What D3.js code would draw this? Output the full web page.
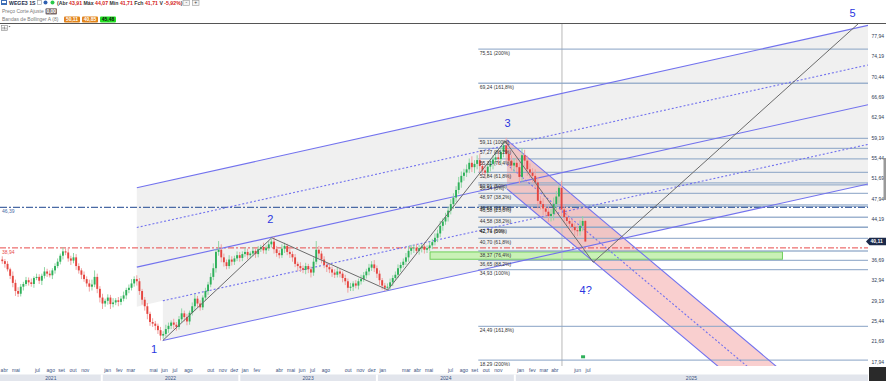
<!DOCTYPE html>
<html><head><meta charset="utf-8">
<script src="https://cdn.jsdelivr.net/npm/d3@7"></script>
<style>
html,body{margin:0;padding:0;background:#fff;overflow:hidden;}
svg{display:block;font-family:"Liberation Sans",Arial,sans-serif;}
</style></head><body>
<svg id="c" width="886" height="381"></svg>
<script>
// ---------------- DATA ----------------
const firstWeek = "2021-04-12";
const firstOpen = 36.8;
const closes = [
36.5,36.0,35.0,33.8,32.5,31.0,30.5,31.8,32.3,33.0,
32.6,32.3,33.4,33.6,32.9,33.8,34.6,34.2,33.9,34.8,
35.6,36.4,37.5,38.3,38.1,37.0,36.6,37.2,35.6,34.8,
34.0,33.2,32.4,31.8,32.2,33.6,31.4,29.8,28.7,29.2,
29.8,28.6,28.9,29.3,29.0,29.6,30.2,31.2,31.6,32.4,
33.2,32.8,31.0,29.4,28.2,26.8,25.3,25.0,24.6,23.8,
22.8,23.1,24.0,24.6,25.2,24.8,24.4,25.8,26.9,26.2,
25.4,27.0,28.2,29.6,28.7,28.0,29.8,31.0,32.2,33.6,
35.2,38.2,38.6,37.2,36.3,35.6,36.8,36.4,37.0,37.6,
37.1,37.8,38.2,37.6,37.9,38.4,37.8,38.7,39.1,38.5,
38.9,39.6,40.1,38.7,38.0,37.6,38.8,39.3,38.2,37.8,
37.2,36.0,35.6,35.2,34.9,35.6,35.0,34.4,36.4,38.6,
37.9,36.8,35.8,35.4,35.0,34.4,34.0,34.6,34.2,33.4,
32.8,31.6,31.8,32.4,32.0,32.8,33.2,33.9,34.6,35.3,
35.9,35.2,34.2,33.0,32.0,31.6,31.8,32.6,33.4,34.0,
35.2,35.8,36.4,37.2,38.4,38.9,39.0,38.4,38.9,39.2,
38.6,38.9,39.4,40.0,40.8,41.6,43.0,43.8,44.6,45.8,
47.0,48.2,49.6,51.0,52.2,52.8,53.4,54.6,53.8,54.4,
55.1,54.0,53.2,52.8,53.9,54.4,55.2,55.6,55.3,56.6,
57.8,56.2,55.0,54.1,54.6,53.8,52.0,56.0,55.0,53.4,
52.8,52.2,51.0,47.6,47.0,46.2,45.6,44.8,45.2,47.0,
48.4,50.0,46.0,44.6,43.9,43.4,42.8,42.2,42.0,43.0,
43.9,40.11];
const upWick = [
0.6,0.4,0.5,0.3,0.8,0.6,0.7,0.5,0.4,0.6, 0.5,0.7,0.3,0.6,0.5,0.4,0.8,0.5,0.6,0.4,
0.5,0.6,0.4,0.7,0.6,0.9,0.5,0.8,0.6,0.5, 0.4,0.6,0.5,0.7,0.9,1.2,0.6,0.5,0.7,0.4,
0.6,0.5,0.8,0.4,0.6,0.5,0.7,0.4,0.6,0.8, 0.5,0.7,0.6,0.4,0.5,0.6,0.4,0.7,0.5,0.4,
0.6,0.5,0.8,0.6,0.4,0.7,0.5,0.6,0.9,0.5, 0.6,0.4,0.7,0.8,0.5,0.6,0.4,0.6,0.5,0.7,
0.9,0.6,1.6,1.0,0.7,0.5,0.8,0.6,0.5,0.7, 0.6,0.5,0.8,0.6,0.4,0.7,0.5,0.6,0.4,0.8,
0.5,0.6,0.5,0.9,0.6,0.5,0.8,0.6,0.4,0.7, 0.5,0.6,0.4,0.7,0.5,0.6,0.4,0.5,0.8,1.6,
0.7,0.5,0.6,0.4,0.7,0.5,0.6,0.8,0.5,0.4, 0.6,0.5,0.7,0.4,0.6,0.5,0.8,0.6,0.5,0.7,
0.6,0.8,0.5,0.6,0.4,0.5,0.6,0.7,0.5,0.6, 0.7,0.5,0.6,0.8,0.9,0.6,0.5,0.7,0.6,0.5,
0.6,0.5,0.7,0.6,0.8,0.7,0.9,0.6,0.8,0.7, 0.9,0.8,0.7,1.0,0.8,0.7,0.9,0.8,1.2,0.7,
0.9,1.1,0.8,1.0,0.7,0.9,0.8,1.0,1.2,0.9, 0.7,1.4,0.9,1.0,0.8,1.1,0.9,1.3,1.0,0.9,
1.1,0.8,1.2,1.0,0.9,1.1,0.8,1.0,0.9,1.2, 1.0,0.5,1.3,0.9,1.0,0.8,0.9,0.7,0.8,1.0,
0.9,0.16];
const downWick = [
0.5,0.7,0.4,0.6,0.8,0.9,0.6,0.5,0.7,0.4, 0.6,0.5,0.7,0.4,0.6,0.8,0.5,0.6,0.4,0.7,
0.6,0.4,0.5,0.7,0.5,0.6,0.8,0.5,0.7,0.6, 0.8,0.5,0.6,0.9,0.7,0.5,0.8,0.9,1.0,0.6,
0.7,0.9,0.6,0.5,0.8,0.6,0.5,0.7,0.6,0.5, 0.6,0.8,0.7,0.9,0.8,1.0,0.7,0.6,0.8,0.7,
0.9,0.6,0.5,0.7,0.6,0.8,0.7,0.5,0.6,0.8, 0.7,0.6,0.5,0.8,0.7,0.6,0.5,0.6,0.7,0.5,
0.6,0.8,0.7,0.9,0.8,0.6,0.5,0.7,0.6,0.5, 0.7,0.6,0.5,0.8,0.6,0.5,0.7,0.6,0.5,0.6,
0.7,0.5,0.6,0.8,0.7,0.6,0.5,0.8,0.6,0.7, 0.8,0.6,0.9,0.7,0.6,0.8,0.7,0.9,0.6,0.5,
0.8,0.7,0.6,0.9,0.7,0.8,0.6,0.5,0.7,0.8, 0.7,0.9,0.6,0.8,0.5,0.7,0.6,0.5,0.6,0.7,
0.6,0.7,0.8,0.9,0.7,0.6,0.5,0.6,0.7,0.5, 0.6,0.7,0.5,0.6,0.8,0.7,0.9,0.6,0.7,0.8,
0.7,0.6,0.5,0.7,0.6,0.8,0.7,0.9,0.6,0.8, 0.7,0.9,0.8,0.7,1.0,0.9,0.8,0.7,0.9,1.1,
1.0,1.2,0.9,1.1,0.8,0.9,1.0,0.8,1.1,0.9, 1.0,1.3,1.1,0.9,1.2,1.0,1.4,0.9,1.1,1.2,
1.0,1.3,1.1,1.4,1.0,1.2,0.9,1.1,1.0,1.2, 1.1,1.3,1.2,1.0,0.9,1.1,0.8,1.0,0.9,0.8,
1.0,0.0];

// price axis tick labels (the 40,44 tick is hidden under the last-price badge)
const priceTicks = [77.94,74.19,70.44,66.69,62.94,59.19,55.44,51.69,47.94,44.19,36.69,32.94,29.19,25.44,21.69,17.94];
const lastPrice = 40.11;
// month ticks shown on the time axis
const monthTicks = ["2021-04","2021-05","2021-07","2021-08","2021-09","2021-10","2021-11",
 "2022-01","2022-02","2022-03","2022-05","2022-06","2022-07","2022-08","2022-10","2022-11","2022-12",
 "2023-01","2023-02","2023-04","2023-05","2023-06","2023-07","2023-08","2023-10","2023-11","2023-12",
 "2024-01","2024-03","2024-04","2024-05","2024-07","2024-08","2024-09","2024-10","2024-11",
 "2025-01","2025-02","2025-03","2025-04","2025-06","2025-07"];
const monthNames = ["jan","fev","mar","abr","mai","jun","jul","ago","set","out","nov","dez"];
const years = ["2021","2022","2023","2024","2025"];

// Fibonacci levels (value, label)
const fibStart = "2024-09-26";
const fibA = [[75.51,"200%"],[69.24,"161,8%"],[59.11,"100%"],[57.27,"88,2%"],[55.31,"76,4%"],[52.84,"61,8%"],[50.91,"50%"],[48.97,"38,2%"],[46.58,"23,6%"],[42.71,"0%"]];
const fibB = [[50.54,"0%"],[46.86,"23,6%"],[44.58,"38,2%"],[42.74,"50%"],[40.70,"61,8%"],[38.37,"76,4%"],[36.65,"88,2%"],[34.93,"100%"],[24.49,"161,8%"],[18.29,"200%"]];

// horizontal dash-dot levels
const blueLevel = 46.39, redLevel = 38.94;
// ascending channel lines
const chTop  = [["2022-04-04",50.0],["2027-07-27",79.9]];
const chQ1   = [["2022-04-04",42.7],["2027-07-27",72.6]];
const chMid  = [["2022-04-04",35.4],["2027-07-27",65.3]];
const chQ3   = [["2022-06-12",29.2],["2027-07-27",58.0]];
const chLow  = [["2022-06-12",21.9],["2027-07-27",50.7]];
const shadeCorner = ["2022-04-04",28.1];
// descending (red) channel
const rcUpper = [["2024-12-11",58.8],["2027-01-27",13.5]];
const rcMid   = [["2024-12-11",54.3],["2027-01-27",9.0]];
const rcLower = [["2024-12-11",49.8],["2027-01-27",4.5]];
// Elliott wave path
const wavePts = [["2022-06-12",21.9],["2023-03-28",40.8],["2024-01-30",31.2],["2024-12-06",58.6],["2025-07-28",36.3],["2027-07-06",80.5]];
const waveLabels = [["2022-05-20",19.6,"1"],["2023-03-24",43.6,"2"],["2024-12-13",61.2,"3"],["2025-07-08",30.4,"4?"],["2027-06-16",81.4,"5"]];
// green support zone
const greenZone = {from:"2024-05-21", to:"2026-12-12", lo:36.85, hi:38.2};
// vertical cursor
const cursorDate = "2025-05-06";
const marker = ["2025-07-01",18.9];

// ---------------- CHART ----------------
const P = d3.timeParse("%Y-%m-%d"), PM = d3.timeParse("%Y-%m");
const svg = d3.select("#c");
const PX0=0, PX1=868, PY0=24, PY1=366;
const x = d3.scaleTime().domain([P("2021-04-06"), P("2027-07-27")]).range([PX0, PX1]);
const y = d3.scaleLinear().domain([17.94, 77.94]).range([362, 36]);
const pt = d => [x(P(d[0])), y(d[1])];

svg.append("rect").attr("width",886).attr("height",381).attr("fill","#fff");
svg.append("defs").append("clipPath").attr("id","clip").append("rect")
  .attr("x",PX0).attr("y",PY0).attr("width",PX1-PX0).attr("height",PY1-PY0);
const g = svg.append("g").attr("clip-path","url(#clip)");
const line = d3.line();

// gray channel shading
const shade = [pt(chTop[0]), pt(chTop[1]), pt(chLow[1]), pt(chLow[0]), pt(chQ3[0]), pt(shadeCorner)];
g.append("path").attr("d", line(shade)+"Z").attr("fill","#f0f0f0");

// red descending channel fill
g.append("path").attr("d", line([pt(rcUpper[0]),pt(rcUpper[1]),pt(rcLower[1]),pt(rcLower[0])])+"Z")
  .attr("fill","rgba(236,110,110,0.33)");

// green zone
g.append("rect").attr("x", x(P(greenZone.from))).attr("width", x(P(greenZone.to))-x(P(greenZone.from)))
  .attr("y", y(greenZone.hi)).attr("height", y(greenZone.lo)-y(greenZone.hi))
  .attr("fill","#c9f1b6").attr("stroke","#6fcf5a").attr("stroke-width",1);

// vertical cursor line
g.append("line").attr("x1",x(P(cursorDate))).attr("x2",x(P(cursorDate))).attr("y1",PY0).attr("y2",PY1)
  .attr("stroke","#c4c4c4").attr("stroke-width",1.2);

// fib lines
const fx0 = x(P(fibStart));
const drawFib = (arr) => arr.forEach(([v,l]) => {
  g.append("line").attr("x1",fx0).attr("x2",PX1).attr("y1",y(v)).attr("y2",y(v))
   .attr("stroke","#8fa8c8").attr("stroke-width",1.3).attr("opacity",0.85);
});
drawFib(fibA); drawFib(fibB);

// dash-dot horizontal levels
g.append("line").attr("x1",PX0).attr("x2",PX1).attr("y1",y(blueLevel)).attr("y2",y(blueLevel))
  .attr("stroke","#4a6aa5").attr("stroke-width",1.3).attr("stroke-dasharray","7,2,2,2");
g.append("line").attr("x1",PX0).attr("x2",PX1).attr("y1",y(redLevel)).attr("y2",y(redLevel))
  .attr("stroke","#e84a4a").attr("stroke-width",1).attr("stroke-dasharray","6,2,2,2");

// channel lines
const chLine = (d, dash) => g.append("path").attr("d", line(d.map(pt))).attr("fill","none")
  .attr("stroke","#7272ee").attr("stroke-width",1.1).attr("stroke-dasharray", dash?"2,2":null);
chLine(chTop,false); chLine(chQ1,true); chLine(chMid,false); chLine(chQ3,true); chLine(chLow,false);
chLine(rcUpper,false); chLine(rcMid,true); chLine(rcLower,false);

// candles
const t0 = P(firstWeek);
const candles = closes.map((c,i) => {
  const o = i===0 ? firstOpen : closes[i-1];
  return {d: d3.timeWeek.offset(t0, i), o, c, h: Math.max(o,c)+upWick[i], l: Math.min(o,c)-downWick[i]};
});
const bw = 1.9;
const cg = g.append("g");
candles.forEach(k => {
  const up = k.c >= k.o, cx = x(k.d);
  cg.append("line").attr("x1",cx).attr("x2",cx).attr("y1",y(k.h)).attr("y2",y(k.l))
    .attr("stroke", up ? "#8fd6a4" : "#f0a0a0").attr("stroke-width",1);
  cg.append("rect").attr("x",cx-bw/2).attr("width",bw)
    .attr("y",y(Math.max(k.o,k.c))).attr("height",Math.max(0.8, Math.abs(y(k.o)-y(k.c))))
    .attr("fill", up ? "#2eb05a" : "#e5453f");
});

// wave path
g.append("path").attr("d", line(wavePts.map(pt))).attr("fill","none").attr("stroke","#6b6b6b").attr("stroke-width",1);

// marker
g.append("rect").attr("x",x(P(marker[0]))-2).attr("y",y(marker[1])-1.5).attr("width",4).attr("height",3).attr("fill","#2eb05a");

// fib labels
const fmt = v => v.toFixed(2).replace(".",",");
const fibLab = (arr) => arr.forEach(([v,l]) => {
  g.append("text").attr("x",fx0+1.5).attr("y",y(v)+5.6).attr("font-size",5).attr("fill","#333")
   .text(`${fmt(v)} (${l})`);
});
fibLab(fibA); fibLab(fibB);

// level labels at left
g.append("text").attr("x",2).attr("y",y(blueLevel)+6).attr("font-size",5).attr("fill","#4a6aa5").text(fmt(blueLevel));
g.append("text").attr("x",2).attr("y",y(redLevel)+6).attr("font-size",5).attr("fill","#e84a4a").text(fmt(redLevel));

// price axis
priceTicks.forEach(v => {
  svg.append("text").attr("x",871.5).attr("y",y(v)+1.8).attr("font-size",5).attr("fill","#2e3a55").text(fmt(v));
});
const ly = y(lastPrice);
svg.append("path").attr("d",`M866,${ly} L869.5,${ly-3.8} L886,${ly-3.8} L886,${ly+3.8} L869.5,${ly+3.8} Z`).attr("fill","#1c2a4a");
svg.append("text").attr("x",870.5).attr("y",ly+1.9).attr("font-size",5).attr("font-weight","bold").attr("fill","#fff").text(fmt(lastPrice));
svg.append("rect").attr("x",883.5).attr("y",158).attr("width",2.5).attr("height",42).attr("fill","#9a9a9a");

// time axis
monthTicks.forEach(m => {
  const d = PM(m);
  svg.append("text").attr("x",x(d)+2.5).attr("y",371.5).attr("font-size",5).attr("fill","#3b5282").text(monthNames[d.getMonth()]);
});
svg.append("rect").attr("x",0).attr("y",374.5).attr("width",868).attr("height",6.5).attr("fill","#e2e5ec");
const yb = years.map(yr => Math.max(0, x(P(yr+"-01-01"))));
years.forEach((yr,i) => {
  const a = yb[i], b = i < years.length-1 ? yb[i+1] : PX1;
  if (i>0) svg.append("rect").attr("x",a-1).attr("y",374.5).attr("width",2).attr("height",6.5).attr("fill","#fff");
  svg.append("text").attr("x",(a+b)/2).attr("y",380).attr("text-anchor","middle").attr("font-size",5).attr("fill","#3b5282").text(yr);
});
svg.append("rect").attr("x",869).attr("y",367).attr("width",17).attr("height",14).attr("fill","#2a2a2a");

// header
svg.append("rect").attr("x",0).attr("y",0).attr("width",886).attr("height",23).attr("fill","#fff");
svg.append("line").attr("x1",0).attr("x2",886).attr("y1",23.5).attr("y2",23.5).attr("stroke","#555").attr("stroke-width",1);
svg.append("rect").attr("x",1).attr("y",0).attr("width",6).attr("height",5).attr("fill","#3d6db5");
svg.append("rect").attr("x",2).attr("y",1).attr("width",4).attr("height",2).attr("fill","#fff");
const r1 = svg.append("text").attr("x",9).attr("y",4.6).attr("font-size",5.2).attr("font-weight","bold").attr("fill","#1a2a4a");
r1.append("tspan").text("WEGE3 1S");
svg.append("rect").attr("x",37.5).attr("y",0.5).attr("width",4).attr("height",4).attr("fill","#fff").attr("stroke","#999").attr("stroke-width",0.6);
svg.append("circle").attr("cx",45.5).attr("cy",2.6).attr("r",2).attr("fill","#2f5fb0");
svg.append("circle").attr("cx",52.5).attr("cy",2.6).attr("r",2).attr("fill","#2bc84a");
const info = svg.append("text").attr("x",57).attr("y",4.6).attr("font-size",5.2).attr("font-weight","bold").attr("fill","#333");
[["(Abr ","#333"],["43,91","#d42020"],[" Máx ","#333"],["44,07","#d42020"],[" Mín ","#333"],["41,71","#d42020"],[" Fch ","#333"],["41,71","#d42020"],[" V ","#333"],["-5,92%","#d42020"],[")","#333"]]
  .forEach(([t,c]) => info.append("tspan").attr("fill",c).text(t));
[[183,"-"],[192.5,"+"]].forEach(([bx,t]) => {
  svg.append("rect").attr("x",bx).attr("y",0.3).attr("width",6.5).attr("height",5).attr("fill","#f4f4f4").attr("stroke","#999").attr("stroke-width",0.6);
  svg.append("text").attr("x",bx+3.25).attr("y",4.3).attr("text-anchor","middle").attr("font-size",5).attr("fill","#333").text(t);
});
svg.append("text").attr("x",2).attr("y",12.8).attr("font-size",5).attr("fill","#7a7a7a").text("Preço Corte Ajuste");
const badge = (bx,by,w,col,t) => {
  svg.append("rect").attr("x",bx).attr("y",by).attr("width",w).attr("height",6.2).attr("rx",1).attr("fill",col);
  svg.append("text").attr("x",bx+w/2).attr("y",by+4.8).attr("text-anchor","middle").attr("font-size",5).attr("font-weight","bold").attr("fill", col==="#22e022"?"#111":"#fff").text(t);
};
badge(45.5,8.2,11.5,"#7b6b6b","0,00");
svg.append("text").attr("x",2).attr("y",21).attr("font-size",5).attr("fill","#7a7a7a").text("Bandas de Bollinger A (8)");
badge(64,16.4,16,"#e2841a","50,11");
badge(82,16.4,16,"#e2841a","40,85");
badge(100,16.4,16,"#22e022","45,48");
// small chart-type icon
svg.append("rect").attr("x",1.5).attr("y",25.5).attr("width",6).attr("height",5).attr("fill","#fff").attr("stroke","#888").attr("stroke-width",0.6);
svg.append("path").attr("d","M3,29.5 L3,27 M4.5,29.5 L4.5,26.5 M6,29.5 L6,27.5").attr("stroke","#555").attr("stroke-width",0.6);
svg.append("path").attr("d","M8.5,26 L10.5,26 L9.5,27.2 Z").attr("fill","#666");

// wave labels drawn last (the "5" sits above the plot, over the header)
waveLabels.forEach(([d,v,t]) => {
  svg.append("text").attr("x",x(P(d))).attr("y",y(v)).attr("text-anchor","middle")
    .attr("font-size",11).attr("fill","#2a36e0").text(t);
});
</script>
</body></html>
